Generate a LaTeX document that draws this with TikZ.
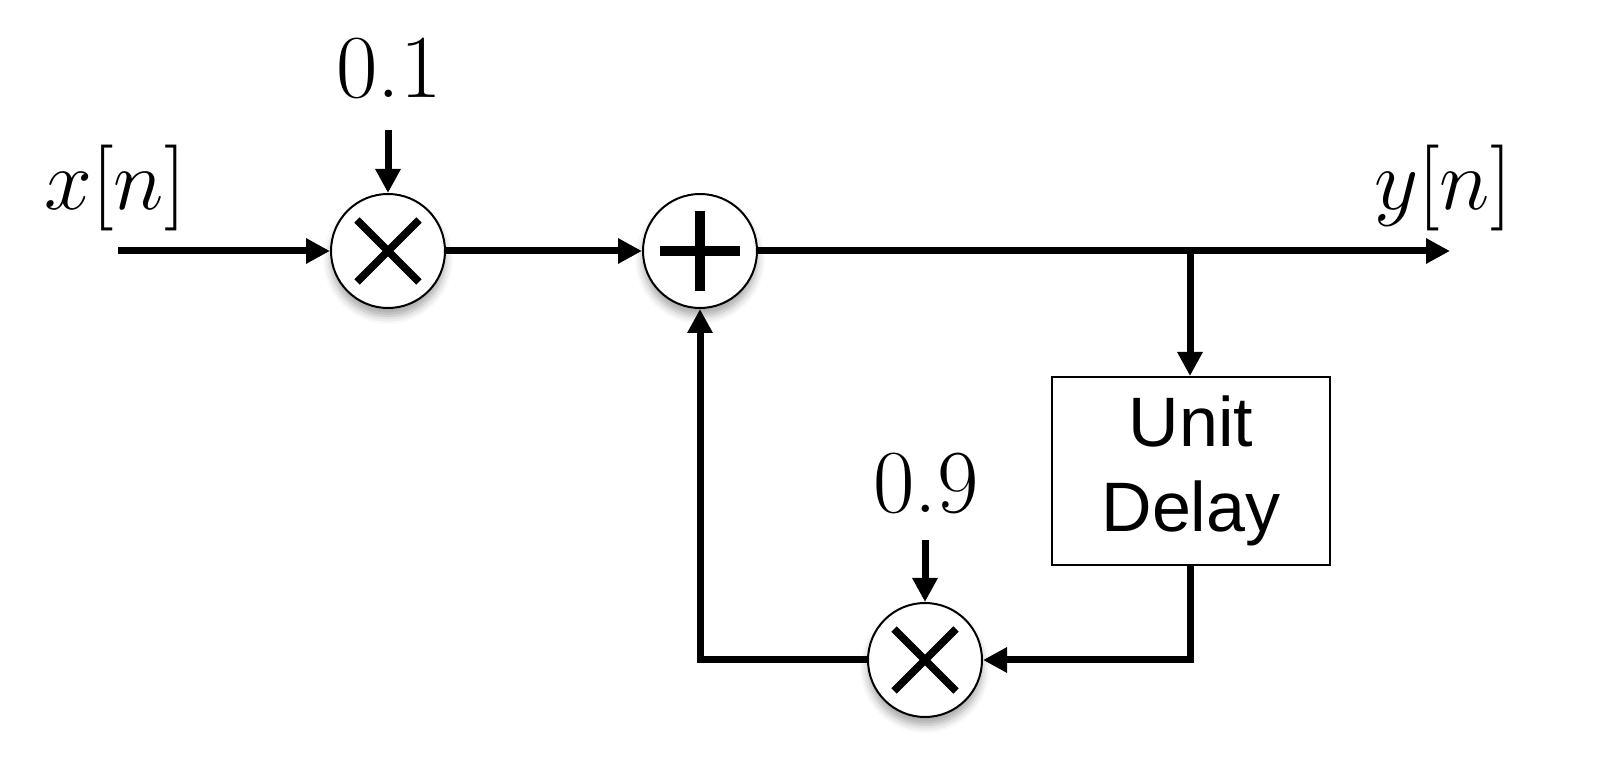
\RequirePackage{fix-cm}
\documentclass[tikz,border=0pt]{standalone}
\usepackage{fontspec}
\newfontfamily\blockfont{Liberation Sans}
\usepackage{tikz}
\usetikzlibrary{arrows.meta,shadows.blur}

\begin{document}
\begin{tikzpicture}[
    x=0.5pt, y=-0.5pt,
    op circle/.style={
        circle,
        draw=black,
        line width=1pt,
        fill=white,
        minimum size=57pt,
        inner sep=0pt,
        blur shadow={shadow xshift=0pt, shadow yshift=-4pt, shadow blur radius=4pt, shadow opacity=35}
    },
    mult/.style={
        op circle,
        path picture={
            \draw[line width=3.8pt]
                ([shift={(-15.5pt,-15.5pt)}]path picture bounding box.center) -- ([shift={(15.5pt,15.5pt)}]path picture bounding box.center)
                ([shift={(-15.5pt,15.5pt)}]path picture bounding box.center) -- ([shift={(15.5pt,-15.5pt)}]path picture bounding box.center);
        }
    },
    adder/.style={
        op circle,
        path picture={
            \draw[line width=5pt]
                ([yshift=-20pt]path picture bounding box.center) -- ([yshift=20pt]path picture bounding box.center)
                ([xshift=-20pt]path picture bounding box.center) -- ([xshift=20pt]path picture bounding box.center);
        }
    },
    delay box/.style={
        draw=black,
        line width=1pt,
        fill=white,
        minimum width=139pt,
        minimum height=94pt,
        align=center,
        font=\blockfont\fontsize{35}{42.5}\selectfont
    },
    signal/.style={font=\fontsize{43}{48}\selectfont},
    gain/.style={font=\fontsize{45}{50}\selectfont},
    arrow/.style={-{Triangle[length=12pt,width=12pt]}, line width=3.5pt, black}
]

\useasboundingbox (0,0) rectangle (1608,758);

% Blocks
\node[mult] (m1) at (388,251) {};
\node[adder] (s1) at (700,251) {};
\node[delay box] (delay) at (1191,471) {Unit\\Delay};
\node[mult] (m2) at (925,660) {};

% Labels
\node[signal] (xin) at (115,188) {$x[n]$};
\node[signal] (yout) at (1443,188) {$y[n]$};
\node[gain] (g1) at (389,68) {0.1};
\node[gain] (g2) at (926,483) {0.9};

% Free ends
\coordinate (in) at (118,251);
\coordinate (out) at (1450,251);
\coordinate (br) at (1190,251);
\coordinate (g1end) at (m1.north |- 0,130);
\coordinate (g2end) at (m2.north |- 0,540);

% Forward path
\draw[arrow] (in) -- (m1);
\draw[arrow] (g1end) -- (m1.north);
\draw[arrow] (m1) -- (s1);
\draw[arrow] (s1) -- (out);

% Feedback path
\draw[arrow] (br) -- (br |- delay.north);
\draw[arrow] (delay.south -| br) |- (m2.east);
\draw[arrow] (g2end) -- (m2.north);
\draw[arrow] (m2.west) -| (s1.south);

\end{tikzpicture}
\end{document}
